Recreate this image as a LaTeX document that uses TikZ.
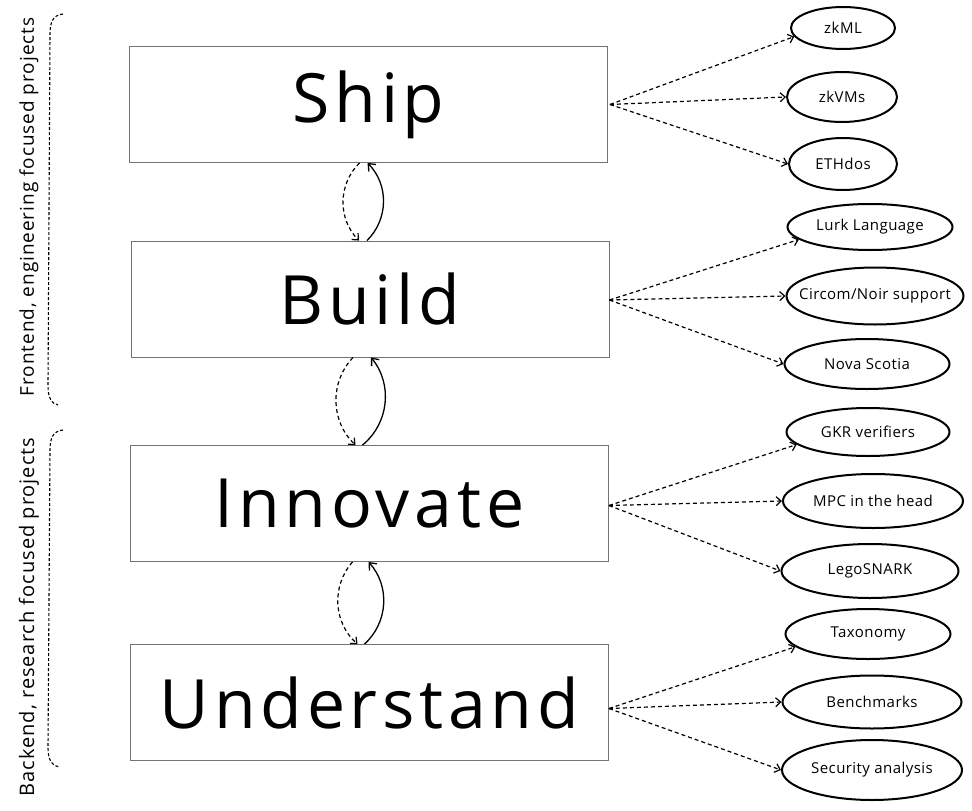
\documentclass[tikz,border=0pt]{standalone}
\usepackage{fontspec}
\setmainfont{Open Sans}
\usetikzlibrary{shapes.geometric,arrows.meta,calc}
\begin{document}
\begin{tikzpicture}[x=1pt,y=-1pt,
  bigbox/.style={draw=black!55,line width=0.9pt,minimum width=478pt,minimum height=116pt,inner sep=0pt,font=\fontsize{68}{70}\selectfont\addfontfeature{LetterSpace=7}},
  oval/.style={ellipse,draw,line width=2pt,inner xsep=-30pt,inner ysep=0pt,font=\fontsize{15}{17}\selectfont\addfontfeature{LetterSpace=3}},
  darr/.style={dash pattern=on 4pt off 3pt,line width=1.2pt,-{Straight Barb[length=5pt,width=9pt]}},
  sarr/.style={line width=1.3pt,-{Straight Barb[length=6pt,width=10pt]}},
  sidetext/.style={rotate=90,font=\fontsize{19}{21}\selectfont\addfontfeature{LetterSpace=5}},
  bracket/.style={dash pattern=on 3pt off 2pt,line width=1.1pt}
]
\useasboundingbox[fill=white] (0,0) rectangle (972,811);

% main boxes
\node[bigbox] (ship) at (368.5,104.5) {Ship};
\node[bigbox] (build) at (370,299) {Build};
\node[bigbox] (innov) at (369.5,503.5) {Innovate};
\node[bigbox] (under) at (369.5,702.5) {Understand};

% ellipses
\node[oval,minimum width=104pt,minimum height=42pt] (zkml) at (843,28) {zkML};
\node[oval,minimum width=110pt,minimum height=50pt] (zkvm) at (842,97) {zkVMs};
\node[oval,minimum width=108pt,minimum height=52pt] (eth) at (843,164) {ETHdos};
\node[oval,minimum width=165pt,minimum height=46pt] (lurk) at (870,227) {Lurk Language};
\node[oval,minimum width=177pt,minimum height=57pt] (circ) at (875,296) {Circom/Noir support};
\node[oval,minimum width=165pt,minimum height=50pt] (nova) at (867,364) {Nova Scotia};
\node[oval,minimum width=163pt,minimum height=48pt] (gkr) at (868,432) {GKR verifiers};
\node[oval,minimum width=180pt,minimum height=54pt] (mpc) at (873,501) {MPC in the head};
\node[oval,minimum width=177pt,minimum height=54pt] (lego) at (870,571) {LegoSNARK};
\node[oval,minimum width=165pt,minimum height=50pt] (tax) at (868,634) {Taxonomy};
\node[oval,minimum width=179pt,minimum height=53pt] (bench) at (872,702) {Benchmarks};
\node[oval,minimum width=180pt,minimum height=60pt] (sec) at (872,770) {Security analysis};

% dashed connectors to ellipses
\coordinate (s1) at ([xshift=2pt]ship.east);
\coordinate (s2) at ([yshift=-1pt]build.east);
\coordinate (s3) at ([yshift=-2pt]innov.east);
\coordinate (s4) at ([yshift=-6pt]under.east);
\draw[darr] (s1) -- (zkml.190);
\draw[darr] (s1) -- (zkvm.west);
\draw[darr] (s1) -- (eth.west);
\draw[darr] (s2) -- (lurk.190);
\draw[darr] (s2) -- (circ.west);
\draw[darr] (s2) -- (nova.west);
\draw[darr] (s3) -- (gkr.190);
\draw[darr] (s3) -- (mpc.west);
\draw[darr] (s3) -- (lego.west);
\draw[darr] (s4) -- (tax.190);
\draw[darr] (s4) -- (bench.west);
\draw[darr] (s4) -- (sec.west);

% arrows between boxes
\draw[darr] ([xshift=-9pt]ship.south) to[bend right=45] ([xshift=-11pt]build.north);
\draw[sarr] ([xshift=-3pt]build.north) to[bend right=45] ([xshift=-1pt]ship.south);
\draw[darr] ([xshift=-17pt]build.south) to[bend right=45] ([xshift=-14pt]innov.north);
\draw[sarr] ([xshift=-7pt]innov.north) to[bend right=45] ([xshift=1pt]build.south);
\draw[darr] ([xshift=-17pt]innov.south) to[bend right=45] ([xshift=-12pt]under.north);
\draw[sarr] ([xshift=-5pt]under.north) to[bend right=45] ([xshift=-1pt]innov.south);

% side brackets
\draw[bracket] (63,14) .. controls (53,15) and (50,22) .. (50,34) -- (48,386) .. controls (48,398) and (52,404) .. (58,405);
\draw[bracket] (63,430) .. controls (53,431) and (50,438) .. (50,450) -- (48,748) .. controls (48,760) and (52,766) .. (60,767);
\node[sidetext] (t1) at (29,207) {Frontend, engineering focused projects};
\node[sidetext,font=\fontsize{20}{22}\selectfont\addfontfeature{LetterSpace=5}] (t2) at (29,617) {Backend, research focused projects};
\end{tikzpicture}
\end{document}
